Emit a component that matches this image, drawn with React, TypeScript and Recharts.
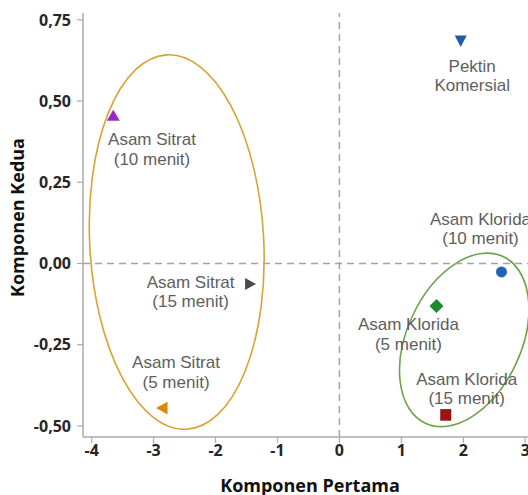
import React from 'react';
import { ScatterChart, Scatter, XAxis, YAxis, ReferenceLine, ReferenceArea } from 'recharts';

// ---- data ----
const labelLine1 = ['Pektin', 'Asam Sitrat', 'Asam Sitrat', 'Asam Sitrat', 'Asam Klorida', 'Asam Klorida', 'Asam Klorida'];
const labelLine2 = ['Komersial', '(10 menit)', '(15 menit)', '(5 menit)', '(10 menit)', '(5 menit)', '(15 menit)'];
const komponenPertama = [1.958, -3.651, -1.434, -2.864, 2.617, 1.567, 1.716];
const komponenKedua = [0.685, 0.456, -0.063, -0.445, -0.026, -0.131, -0.466];

const xTicks = [-4, -3, -2, -1, 0, 1, 2, 3];
const yTicks = [-0.5, -0.25, 0, 0.25, 0.5, 0.75];
const xDomain = [-4.14, 3.19];
const yDomain = [-0.534, 0.771];

// group ellipses (data units)
const groupCenterX = [-2.627, 2.015];
const groupCenterY = [0.066, -0.235];
const groupRadiusX = [1.405, 0.921];
const groupRadiusY = [0.577, 0.283];

// ---- styles ----
const markerShapes = ['down', 'up', 'right', 'left', 'circle', 'diamond', 'square'];
const markerColors = ['#1f5bab', '#9d27c4', '#4a4a4a', '#d98a0e', '#1f63b8', '#1e8a2e', '#9a1414'];
const labelDx = [11.5, 38.7, -60, 14, -21, -28, 21];
const labelDy = [30.7, 29.7, 4, -40, -47, 24, -30];
const ellipseColors = ['#d6a432', '#6ea24a'];
const ellipseRotation = [-3, 25];

const AXIS_GRAY = '#ababab';
const tickStyle = { fill: '#262626', fontFamily: 'Open Sans', fontWeight: 700, fontSize: 16 };

const data = komponenPertama.map((x, i) => ({ x, y: komponenKedua[i], idx: i }));

const Marker = (props: any) => {
  const { cx, cy, payload } = props;
  const i = payload.idx;
  const c = markerColors[i];
  const s = markerShapes[i];
  let mark: any = null;
  if (s === 'down') mark = <polygon points={`${cx - 6},${cy - 5.5} ${cx + 6},${cy - 5.5} ${cx},${cy + 6}`} fill={c} />;
  else if (s === 'up') mark = <polygon points={`${cx - 6.5},${cy + 5.3} ${cx + 6.5},${cy + 5.3} ${cx},${cy - 5.5}`} fill={c} />;
  else if (s === 'right') mark = <polygon points={`${cx - 5.5},${cy - 6} ${cx - 5.5},${cy + 6} ${cx + 5.5},${cy}`} fill={c} />;
  else if (s === 'left') mark = <polygon points={`${cx + 5.5},${cy - 6.3} ${cx + 5.5},${cy + 6.3} ${cx - 6},${cy}`} fill={c} />;
  else if (s === 'circle') mark = <circle cx={cx} cy={cy} r={5.5} fill={c} />;
  else if (s === 'diamond') mark = <polygon points={`${cx - 7},${cy} ${cx},${cy - 7} ${cx + 7},${cy} ${cx},${cy + 7}`} fill={c} />;
  else mark = <rect x={cx - 5.5} y={cy - 5.8} width={11} height={11.6} fill={c} />;
  const tx = cx + labelDx[i];
  const ty = cy + labelDy[i];
  return (
    <g>
      {mark}
      <text x={tx} y={ty} textAnchor="middle" fill="#5e5e5e" fontFamily="Liberation Sans" fontSize={17}>
        {labelLine1[i]}
      </text>
      <text x={tx} y={ty + 19.5} textAnchor="middle" fill="#5e5e5e" fontFamily="Liberation Sans" fontSize={17}>
        {labelLine2[i]}
      </text>
    </g>
  );
};

const makeEllipse = (g: number) => (p: any) => {
  const w = Math.abs(p.width);
  const h = Math.abs(p.height);
  const cx = Math.min(p.x, p.x + p.width) + w / 2;
  const cy = Math.min(p.y, p.y + p.height) + h / 2;
  return (
    <ellipse
      cx={cx}
      cy={cy}
      rx={w / 2}
      ry={h / 2}
      fill="none"
      stroke={ellipseColors[g]}
      strokeWidth={1.6}
      transform={`rotate(${ellipseRotation[g]} ${cx} ${cy})`}
    />
  );
};

const fmt = (v: number) => v.toFixed(2).replace('.', ',');

export default function App() {
  return (
    <div style={{ position: 'fixed', left: 0, top: 0, width: 528, height: 495, overflow: 'hidden', background: '#fff' }}>
      <ScatterChart width={560} height={495} margin={{ top: 13, right: 23, bottom: 0, left: 0 }}>
        <XAxis
          xAxisId="top"
          orientation="top"
          type="number"
          domain={xDomain}
          allowDataOverflow
          height={0}
          tick={false}
          tickLine={false}
          axisLine={{ stroke: AXIS_GRAY, strokeWidth: 1.5 }}
        />
        <XAxis
          dataKey="x"
          type="number"
          domain={xDomain}
          allowDataOverflow
          ticks={xTicks}
          interval={0}
          height={58}
          tickSize={6}
          tickMargin={2}
          tick={tickStyle}
          tickLine={{ stroke: AXIS_GRAY, strokeWidth: 1.2 }}
          axisLine={{ stroke: AXIS_GRAY, strokeWidth: 1.5 }}
          label={(props: any) => {
            const vb = props.viewBox;
            return (
              <text x={vb.x + vb.width / 2} y={vb.y + 54.5} textAnchor="middle" fill="#111" fontFamily="Open Sans" fontWeight={700} fontSize={18}>
                Komponen Pertama
              </text>
            );
          }}
        />
        <YAxis
          dataKey="y"
          type="number"
          domain={yDomain}
          allowDataOverflow
          ticks={yTicks}
          interval={0}
          width={83}
          tickSize={6}
          tickMargin={6}
          tickFormatter={fmt}
          tick={tickStyle}
          tickLine={{ stroke: AXIS_GRAY, strokeWidth: 1.2 }}
          axisLine={{ stroke: AXIS_GRAY, strokeWidth: 1.5 }}
          label={(props: any) => {
            const vb = props.viewBox;
            const cy = 217.5;
            const x = 24;
            return (
              <text x={x} y={cy} transform={`rotate(-90 ${x} ${cy})`} textAnchor="middle" fill="#111" fontFamily="Open Sans" fontWeight={700} fontSize={18}>
                Komponen Kedua
              </text>
            );
          }}
        />
        <ReferenceLine x={0} stroke="#a3a3a3" strokeWidth={1.5} strokeDasharray="7 5" />
        <ReferenceLine y={0} stroke="#a3a3a3" strokeWidth={1.5} strokeDasharray="7 5" />
        {groupCenterX.map((gx, g) => (
          <ReferenceArea
            key={g}
            x1={gx - groupRadiusX[g]}
            x2={gx + groupRadiusX[g]}
            y1={groupCenterY[g] - groupRadiusY[g]}
            y2={groupCenterY[g] + groupRadiusY[g]}
            ifOverflow="visible"
            shape={makeEllipse(g)}
          />
        ))}
        <Scatter data={data} dataKey="y" isAnimationActive={false} shape={Marker} />
      </ScatterChart>
    </div>
  );
}
